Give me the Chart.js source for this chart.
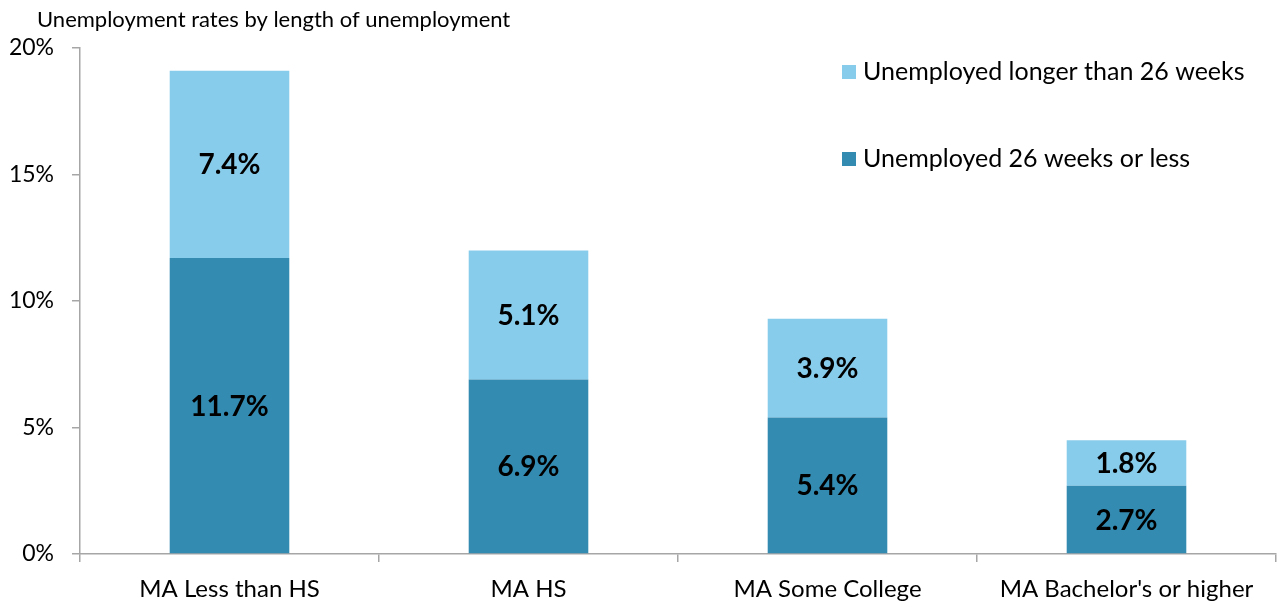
<!DOCTYPE html>
<html>
<head>
<meta charset="utf-8">
<script src="https://cdn.jsdelivr.net/npm/chart.js@4/dist/chart.umd.min.js"></script>
<style>
  html, body { margin: 0; padding: 0; background: #fff; }
  #wrap { width: 1282px; height: 602px; position: relative; }
</style>
</head>
<body>
<div id="wrap"><canvas id="chart" width="1282" height="602"></canvas></div>
<script>
const categories = ["MA Less than HS", "MA HS", "MA Some College", "MA Bachelor's or higher"];
const shortTerm = [11.7, 6.9, 5.4, 2.7];
const longTerm = [7.4, 5.1, 3.9, 1.8];
const yTicks = [0, 5, 10, 15, 20];

const FONT = "Lato, 'Open Sans', sans-serif";
const darkBlue = "#338bb2";
const lightBlue = "#88cceb";

// title text top-left
const titlePlugin = {
  id: "titleText",
  afterDraw(chart) {
    const ctx = chart.ctx;
    ctx.save();
    ctx.font = "22px " + FONT;
    ctx.fillStyle = "#000";
    ctx.textBaseline = "alphabetic";
    ctx.textAlign = "left";
    ctx.fillText("Unemployment rates by length of unemployment", 37, 27);
    ctx.restore();
  }
};

// values in the middle of each segment
const valueLabels = {
  id: "valueLabels",
  afterDatasetsDraw(chart) {
    const ctx = chart.ctx;
    ctx.save();
    ctx.font = "bold 28px " + FONT;
    ctx.fillStyle = "#000";
    ctx.textAlign = "center";
    ctx.textBaseline = "middle";
    chart.data.datasets.forEach((ds, i) => {
      chart.getDatasetMeta(i).data.forEach((bar, j) => {
        const mid = (bar.y + bar.base) / 2;
        ctx.fillText(ds.data[j].toFixed(1) + "%", bar.x, mid + 1);
      });
    });
    ctx.restore();
  }
};

// legend inside the plot, top right, longer-term first
const legendBox = {
  id: "legendBox",
  afterDraw(chart) {
    const ctx = chart.ctx;
    const items = [chart.data.datasets[1], chart.data.datasets[0]];
    ctx.save();
    ctx.font = "25px " + FONT;
    ctx.textBaseline = "middle";
    ctx.textAlign = "left";
    items.forEach((ds, i) => {
      const y = 72 + i * 87;
      ctx.fillStyle = ds.backgroundColor;
      ctx.fillRect(842, y - 7, 14, 14);
      ctx.fillStyle = "#000";
      ctx.fillText(ds.label, 863, y);
    });
    ctx.restore();
  }
};

new Chart(document.getElementById("chart"), {
  type: "bar",
  data: {
    labels: categories,
    datasets: [
      {
        label: "Unemployed 26 weeks or less",
        data: shortTerm,
        backgroundColor: darkBlue,
        barPercentage: 0.4,
        categoryPercentage: 1
      },
      {
        label: "Unemployed longer than 26 weeks",
        data: longTerm,
        backgroundColor: lightBlue,
        barPercentage: 0.4,
        categoryPercentage: 1
      }
    ]
  },
  options: {
    responsive: false,
    animation: false,
    layout: { padding: { top: 48, right: 6, left: 0, bottom: 0 } },
    plugins: {
      legend: { display: false },
      tooltip: { enabled: false }
    },
    scales: {
      x: {
        stacked: true,
        border: { color: "#a6a6a6", width: 1.5 },
        grid: {
          offset: true,
          drawOnChartArea: false,
          color: "#a6a6a6",
          lineWidth: 1.5,
          tickLength: 8
        },
        ticks: {
          color: "#000",
          font: { family: FONT, size: 24 },
          padding: 13
        },
        afterFit(scale) { scale.height = 48; }
      },
      y: {
        stacked: true,
        min: 0,
        max: 20,
        border: { color: "#a6a6a6", width: 1.5 },
        grid: {
          drawOnChartArea: false,
          color: "#a6a6a6",
          lineWidth: 1.5,
          tickLength: 8
        },
        afterBuildTicks(scale) {
          scale.ticks = yTicks.map(v => ({ value: v }));
        },
        ticks: {
          color: "#000",
          font: { family: FONT, size: 23 },
          padding: 18,
          callback: v => v + "%"
        },
        afterFit(scale) { scale.width = 80; }
      }
    }
  },
  plugins: [titlePlugin, valueLabels, legendBox]
});
</script>
</body>
</html>
